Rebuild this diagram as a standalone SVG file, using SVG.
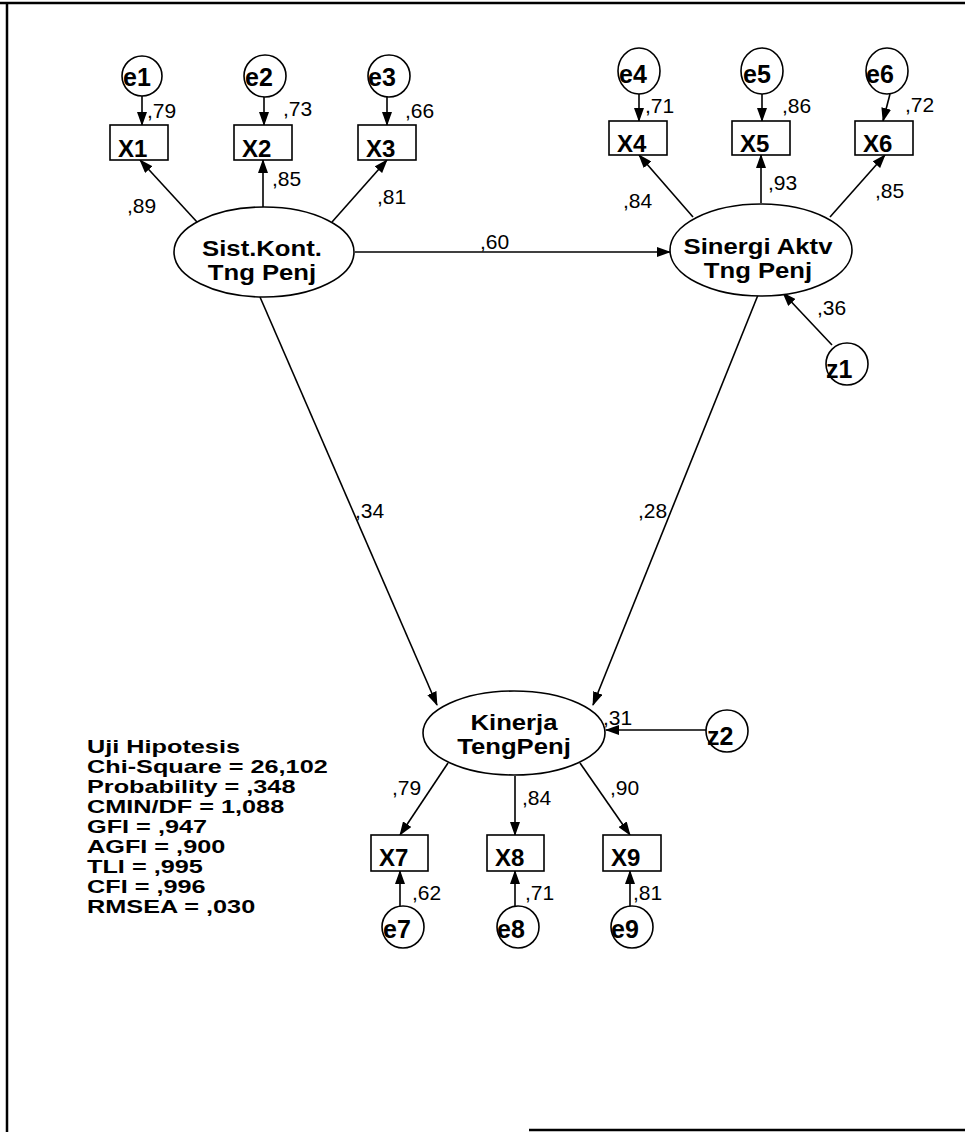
<svg xmlns="http://www.w3.org/2000/svg" width="965" height="1132" viewBox="0 0 965 1132">
<style>
.lat{fill:#fff;stroke:#000;stroke-width:1.6}
.obs{fill:#fff;stroke:#000;stroke-width:1.6}
.err{fill:#fff;stroke:#000;stroke-width:1.6}
.c{stroke:#000;stroke-width:1.6;fill:none;marker-end:url(#ah)}
.tl{font-family:"Liberation Sans",Arial,sans-serif;font-weight:bold;font-size:21.4px;fill:#000;text-anchor:middle}
.tb{font-family:"Liberation Sans",Arial,sans-serif;font-weight:bold;font-size:24px;fill:#000}
.te{font-family:"Liberation Sans",Arial,sans-serif;font-weight:bold;font-size:25px;fill:#000}
.lb{font-family:"Liberation Sans",Arial,sans-serif;font-size:21px;fill:#000}
.st{font-family:"Liberation Sans",Arial,sans-serif;font-weight:bold;font-size:17.8px;fill:#000}
.bd{stroke:#000;stroke-width:2.5;fill:none}
</style>
<defs>
<marker id="ah" markerUnits="userSpaceOnUse" markerWidth="14" markerHeight="10" refX="13" refY="5" orient="auto">
<path d="M0,0 L14,5 L0,10 Z" fill="#000"/>
</marker>
</defs>
<rect width="965" height="1132" fill="#fff"/>
<g id="border">
<path class="bd" d="M0,3 L965,3"/>
<path class="bd" d="M7,4 L7,1132"/>
<path class="bd" d="M529,1130 L965,1130"/>
</g>
<g id="connectors">
<path class="c" d="M142,96 L142,125"/>
<path class="c" d="M264,96 L264,125"/>
<path class="c" d="M387,96 L387,125"/>
<path class="c" d="M197,222 L140,160"/>
<path class="c" d="M263,207 L263,160"/>
<path class="c" d="M332,222 L387,160"/>
<path class="c" d="M639,94 L639,121"/>
<path class="c" d="M762,94 L762,121"/>
<path class="c" d="M890,94 L883,121"/>
<path class="c" d="M693,217 L639,155"/>
<path class="c" d="M761,203 L761,155"/>
<path class="c" d="M830,217 L885,155"/>
<path class="c" d="M355,252 L670,252"/>
<path class="c" d="M832,345 L783,293"/>
<path class="c" d="M260,297 L437,705"/>
<path class="c" d="M758,295 L593,705"/>
<path class="c" d="M707,730 L606,730"/>
<path class="c" d="M448,763 L400,835"/>
<path class="c" d="M515,776 L515,835"/>
<path class="c" d="M580,763 L630,835"/>
<path class="c" d="M400,907 L400,871"/>
<path class="c" d="M515,907 L515,871"/>
<path class="c" d="M630,907 L630,871"/>
</g>
<g id="labels">
<text class="lb" x="147" y="118">,79</text>
<text class="lb" x="283" y="116">,73</text>
<text class="lb" x="405" y="118">,66</text>
<text class="lb" x="272" y="186">,85</text>
<text class="lb" x="127" y="213">,89</text>
<text class="lb" x="377" y="204">,81</text>
<text class="lb" x="645" y="113">,71</text>
<text class="lb" x="782" y="113">,86</text>
<text class="lb" x="905" y="112">,72</text>
<text class="lb" x="768" y="190">,93</text>
<text class="lb" x="623" y="208">,84</text>
<text class="lb" x="875" y="198">,85</text>
<text class="lb" x="480" y="249">,60</text>
<text class="lb" x="817" y="315">,36</text>
<text class="lb" x="355" y="518">,34</text>
<text class="lb" x="638" y="518">,28</text>
<text class="lb" x="603" y="725">,31</text>
<text class="lb" x="392" y="795">,79</text>
<text class="lb" x="522" y="805">,84</text>
<text class="lb" x="610" y="795">,90</text>
<text class="lb" x="412" y="900">,62</text>
<text class="lb" x="525" y="900">,71</text>
<text class="lb" x="633" y="900">,81</text>
</g>
<g id="e1"><circle class="err" cx="142" cy="76" r="20"/><text class="te" x="123" y="86">e1</text></g>
<g id="e2"><circle class="err" cx="265" cy="76" r="21"/><text class="te" x="245" y="86">e2</text></g>
<g id="e3"><circle class="err" cx="389" cy="76" r="21"/><text class="te" x="368" y="86">e3</text></g>
<g id="e4"><ellipse class="err" cx="639" cy="71" rx="21" ry="23"/><text class="te" x="619" y="83">e4</text></g>
<g id="e5"><ellipse class="err" cx="762" cy="71" rx="21" ry="23"/><text class="te" x="743" y="83">e5</text></g>
<g id="e6"><ellipse class="err" cx="887" cy="71" rx="21" ry="23"/><text class="te" x="866" y="83">e6</text></g>
<g id="X1"><rect class="obs" x="110" y="125" width="58" height="35"/><text class="tb" x="118" y="157">X1</text></g>
<g id="X2"><rect class="obs" x="234" y="125" width="58" height="35"/><text class="tb" x="242" y="157">X2</text></g>
<g id="X3"><rect class="obs" x="358" y="125" width="58" height="35"/><text class="tb" x="366" y="157">X3</text></g>
<g id="X4"><rect class="obs" x="609" y="121" width="58" height="34"/><text class="tb" x="617" y="152">X4</text></g>
<g id="X5"><rect class="obs" x="732" y="121" width="58" height="34"/><text class="tb" x="740" y="152">X5</text></g>
<g id="X6"><rect class="obs" x="855" y="121" width="58" height="34"/><text class="tb" x="863" y="152">X6</text></g>
<g id="SistKont"><ellipse class="lat" cx="264" cy="252" rx="90" ry="45"/><g transform="translate(262,0) scale(1.2,1)"><text class="tl"><tspan x="0" y="256">Sist.Kont.</tspan><tspan x="0" y="280">Tng Penj</tspan></text></g></g>
<g id="Sinergi"><ellipse class="lat" cx="761" cy="250" rx="91" ry="46"/><g transform="translate(758,0) scale(1.2,1)"><text class="tl"><tspan x="0" y="254">Sinergi Aktv</tspan><tspan x="0" y="278">Tng Penj</tspan></text></g></g>
<g id="z1"><circle class="err" cx="847" cy="364" r="21"/><text class="te" x="826" y="378">z1</text></g>
<g id="Kinerja"><ellipse class="lat" cx="514" cy="733" rx="91" ry="42"/><g transform="translate(514,0) scale(1.2,1)"><text class="tl"><tspan x="0" y="730">Kinerja</tspan><tspan x="0" y="754">TengPenj</tspan></text></g></g>
<g id="z2"><circle class="err" cx="727" cy="731" r="21"/><text class="te" x="707" y="745">z2</text></g>
<g id="X7"><rect class="obs" x="371" y="835" width="57" height="36"/><text class="tb" x="379" y="866">X7</text></g>
<g id="X8"><rect class="obs" x="487" y="835" width="57" height="36"/><text class="tb" x="495" y="866">X8</text></g>
<g id="X9"><rect class="obs" x="603" y="835" width="58" height="36"/><text class="tb" x="611" y="866">X9</text></g>
<g id="e7"><circle class="err" cx="403" cy="927" r="21"/><text class="te" x="383" y="938">e7</text></g>
<g id="e8"><circle class="err" cx="518" cy="927" r="21"/><text class="te" x="497" y="938">e8</text></g>
<g id="e9"><circle class="err" cx="632" cy="927" r="21"/><text class="te" x="611" y="938">e9</text></g>
<g id="stats" transform="translate(87,0) scale(1.42,1)">
<text class="st"><tspan x="0" y="753">Uji Hipotesis</tspan><tspan x="0" y="773">Chi-Square = 26,102</tspan><tspan x="0" y="793">Probability = ,348</tspan><tspan x="0" y="813">CMIN/DF = 1,088</tspan><tspan x="0" y="833">GFI = ,947</tspan><tspan x="0" y="853">AGFI = ,900</tspan><tspan x="0" y="873">TLI = ,995</tspan><tspan x="0" y="893">CFI = ,996</tspan><tspan x="0" y="913">RMSEA = ,030</tspan></text>
</g>
</svg>
